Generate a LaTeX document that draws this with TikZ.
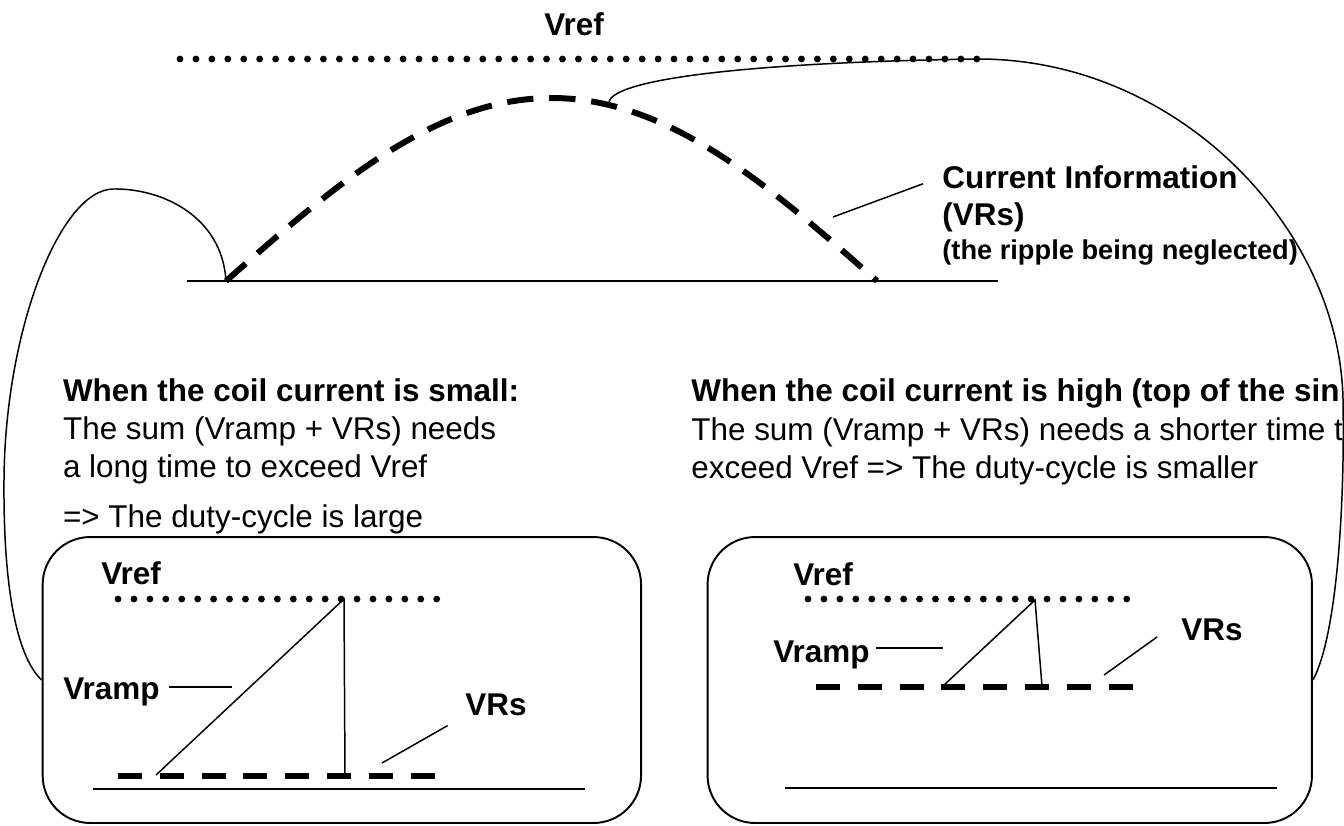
\documentclass[tikz,border=0pt]{standalone}
\usepackage{fontspec}
\setmainfont{Liberation Sans}
\newcommand\txtfont{\fontsize{17.9pt}{21.5pt}\selectfont}
\newcommand\notefont{\fontsize{15.5pt}{18pt}\selectfont}
\tikzset{
  txt/.style={anchor=base west,inner sep=0pt,font=\txtfont},
  lbl/.style={txt,font=\txtfont\bfseries},
  panel/.style={draw,line width=1.1pt,rounded corners=0.95cm,minimum width=#1,minimum height=5.72cm},
  ground/.style={line width=1.1pt},
  wire/.style={line width=0.85pt},
  vdots/.style={line width=3.9pt,line cap=round,dash pattern=on 0pt off 9.07pt},
  vdash/.style={line width=3.4pt,dash pattern=on 13.6pt off 10.2pt},
}
\begin{document}
\begin{tikzpicture}[x=0.02cm,y=-0.02cm]
  \useasboundingbox (0,0) rectangle (1344,825);
  \clip (0,0) rectangle (1344,825);

  % current information (top)
  \path (574,35) node[lbl,anchor=base] (vrefTop) {Vref};
  \draw[vdots] (180,59) -- (980,59);
  \draw[ground] (187,281) -- (998,281);
  \coordinate (humpStart) at (226,281);
  \coordinate (loopStart) at (609,102);
  \coordinate (vrefEnd) at (980,59);
  \draw[vdash,dash pattern=on 15pt off 9pt] plot[domain=0:180,samples=61,smooth] ({226+3.6167*\x},{281-183*sin(\x)});
  \path (942,188) node[lbl] (curInfo) {Current Information};
  \path (942,225) node[lbl] (curVRs) {(VRs)};
  \path (942,259) node[lbl,font=\notefont\bfseries] (ripple) {(the ripple being neglected)};
  \coordinate (curTip) at (833,217);
  \draw[wire,shorten >=11.5pt] (curTip) -- (curInfo.west);

  % texts
  \path (62.7,401) node[lbl] (smallHead) {When the coil current is small:};
  \path (62.7,439) node[txt] (smallA) {The sum (Vramp + VRs) needs};
  \path (62.7,477) node[txt] (smallB) {a long time to exceed Vref};
  \path (62.7,527) node[txt] (smallC) {=> The duty-cycle is large};
  \path (691,401) node[lbl] (highHead) {When the coil current is high (top of the sin};
  \path (691,440) node[txt] (highA) {The sum (Vramp + VRs) needs a shorter time t};
  \path (691,478) node[txt] (highB) {exceed Vref => The duty-cycle is smaller};

  % left panel
  \path (341.85,680) node[panel=11.97cm] (boxL) {};
  \path (101,584) node[lbl] (vrefL) {Vref};
  \draw[vdots] (118,599) -- (438,599);
  \draw[vdash] (118,776) -- (436,776);
  \draw[ground] (93,789) -- (585,789);
  \coordinate (rampFootL) at (156,775);
  \coordinate (rampTopL) at (344,599);
  \coordinate (rampEndL) at (345,776);
  \draw[wire] (rampFootL) -- (rampTopL) -- (rampEndL);
  \path (63,699) node[lbl] (vrampL) {Vramp};
  \coordinate (vrampTipL) at (232,687);
  \draw[wire,shorten >=5pt] (vrampTipL) -- (vrampL.east |- vrampTipL);
  \path (465,715) node[lbl] (vrsL) {VRs};
  \coordinate (vrsTipL) at (382,763);
  \draw[wire,shorten >=11.4pt] (vrsTipL) -- (vrsL.south west);

  % right panel
  \path (1009.75,680) node[panel=12.09cm] (boxR) {};
  \path (793,585) node[lbl] (vrefR) {Vref};
  \draw[vdots] (808,599) -- (1128,599);
  \draw[vdash] (816,687) -- (1134,687);
  \draw[ground] (785,788) -- (1277,788);
  \coordinate (rampFootR) at (943,686);
  \coordinate (rampTopR) at (1035,600);
  \coordinate (rampEndR) at (1042,686);
  \draw[wire] (rampFootR) -- (rampTopR) -- (rampEndR);
  \path (773,662) node[lbl] (vrampR) {Vramp};
  \coordinate (vrampTipR) at (943,648);
  \draw[wire,shorten >=3.4pt] (vrampTipR) -- (vrampR.east |- vrampTipR);
  \path (1181,640) node[lbl] (vrsR) {VRs};
  \coordinate (vrsTipR) at (1104,675);
  \coordinate (vrsTailR) at (1157,637);
  \draw[wire] (vrsTipR) -- (vrsTailR);

  % loops to the panels
  \draw[wire] (humpStart) .. controls (222,215) and (160,188) .. (113,189)
    .. controls (60,190) and (5,330) .. (4,480)
    .. controls (3,600) and (20,660) .. (boxL.west);
  \draw[wire] (loopStart) .. controls (614,78) and (760,62) .. (vrefEnd)
    .. controls (1180,60) and (1340,230) .. (1343,400)
    .. controls (1345,520) and (1335,640) .. (boxR.east);
\end{tikzpicture}
\end{document}
